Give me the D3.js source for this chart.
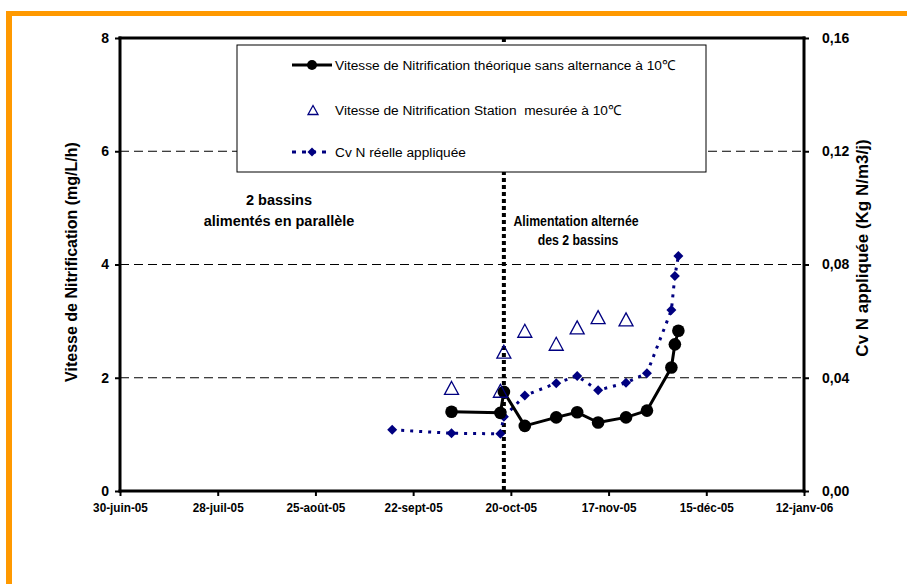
<!DOCTYPE html>
<html><head><meta charset="utf-8">
<script src="https://cdn.jsdelivr.net/npm/d3@7/dist/d3.min.js"></script>
<style>
body{margin:0;background:#fff;}
svg text{font-family:"Liberation Sans",Arial,sans-serif;}
</style></head><body>
<svg id="chart" width="907" height="584"></svg>
<script>
// ---- Data ----
const tickDates  = ["2005-06-30","2005-07-28","2005-08-25","2005-09-22","2005-10-20","2005-11-17","2005-12-15","2006-01-12"];
const tickLabels = ["30-juin-05","28-juil-05","25-août-05","22-sept-05","20-oct-05","17-nov-05","15-déc-05","12-janv-06"];
const leftTicks  = [0,2,4,6,8];
const rightTicks = [0,0.04,0.08,0.12,0.16];

const theoDates  = ["2005-10-03","2005-10-17","2005-10-18","2005-10-24","2005-11-02","2005-11-08","2005-11-14","2005-11-22","2005-11-28","2005-12-05","2005-12-06","2005-12-07"];
const theoValues = [1.40,1.38,1.75,1.15,1.30,1.39,1.21,1.30,1.42,2.18,2.59,2.83];

const measDates  = ["2005-10-03","2005-10-17","2005-10-18","2005-10-24","2005-11-02","2005-11-08","2005-11-14","2005-11-22"];
const measValues = [1.82,1.77,2.46,2.83,2.60,2.89,3.07,3.03];

const cvDates  = ["2005-09-16","2005-10-03","2005-10-17","2005-10-18","2005-10-24","2005-11-02","2005-11-08","2005-11-14","2005-11-22","2005-11-28","2005-12-05","2005-12-06","2005-12-07"];
const cvValues = [0.0216,0.0204,0.0202,0.0262,0.0337,0.0381,0.0406,0.0356,0.0382,0.0416,0.0639,0.0759,0.0830];

const switchDate = "2005-10-18";

const legendLabels = ["Vitesse de Nitrification théorique sans alternance à 10℃",
                      "Vitesse de Nitrification Station  mesurée à 10℃",
                      "Cv N réelle appliquée"];
const leftTitle  = "Vitesse de Nitrification (mg/L/h)";
const rightTitle = "Cv N appliquée (Kg N/m3/j)";
const noteLeft   = ["2 bassins","alimentés en parallèle"];
const noteRight  = ["Alimentation alternée","des 2 bassins"];

// ---- Setup ----
const parse = d3.utcParse("%Y-%m-%d");
const svg = d3.select("#chart");
const L = 120, R = 804, T = 38, B = 491;
const navy = "#000080";

const x = d3.scaleUtc().domain([parse(tickDates[0]), parse(tickDates[tickDates.length-1])]).range([L, R]);
const yL = d3.scaleLinear().domain([0, 8]).range([B, T]);
const yR = d3.scaleLinear().domain([0, 0.16]).range([B, T]);

// orange frame
svg.append("rect").attr("x", 6).attr("y", 11).attr("width", 901).attr("height", 5).attr("fill", "#FF9900");
svg.append("rect").attr("x", 6).attr("y", 11).attr("width", 6).attr("height", 573).attr("fill", "#FF9900");

// gridlines
svg.append("g").selectAll("line").data(leftTicks.filter(v => v > 0 && v < 8)).join("line")
  .attr("x1", L).attr("x2", R).attr("y1", d => yL(d)).attr("y2", d => yL(d))
  .attr("stroke", "#000").attr("stroke-width", 1).attr("stroke-dasharray", "9,5");

// vertical dotted line
svg.append("line").attr("x1", x(parse(switchDate))).attr("x2", x(parse(switchDate)))
  .attr("y1", T).attr("y2", B).attr("stroke", "#000").attr("stroke-width", 4).attr("stroke-dasharray", "4,3");

// axes
const fmtR = d => d3.format(".2f")(d).replace(".", ",");
const axB = svg.append("g").attr("transform", `translate(0,${B})`)
  .call(d3.axisBottom(x).tickValues(tickDates.map(parse)).tickFormat((d,i) => tickLabels[i]).tickSizeInner(5).tickSizeOuter(0).tickPadding(6));
const axL = svg.append("g").attr("transform", `translate(${L},0)`)
  .call(d3.axisLeft(yL).tickValues(leftTicks).tickFormat(d3.format("d")).tickSizeInner(5).tickSizeOuter(0).tickPadding(6));
const axR = svg.append("g").attr("transform", `translate(${R},0)`)
  .call(d3.axisRight(yR).tickValues(rightTicks).tickFormat(fmtR).tickSizeInner(5).tickSizeOuter(0).tickPadding(13));
[axB, axL, axR].forEach(g => {
  g.select(".domain").remove();
  g.selectAll(".tick line").attr("stroke", "#000").attr("stroke-width", 2);
  g.selectAll(".tick text").attr("font-weight", "bold").attr("fill", "#000")
    .style("font-family", '"Liberation Sans",Arial,sans-serif');
});
axB.selectAll(".tick text").attr("font-size", 13.5).attr("transform", "scale(0.87,1)");
axL.selectAll(".tick text").attr("font-size", 14);
axR.selectAll(".tick text").attr("font-size", 14);

// frame lines
const frame = svg.append("g").attr("stroke", "#000").attr("stroke-width", 3).attr("stroke-linecap", "square");
frame.append("line").attr("x1", L).attr("x2", R).attr("y1", T).attr("y2", T);
frame.append("line").attr("x1", L).attr("x2", R).attr("y1", B).attr("y2", B);
frame.append("line").attr("x1", L).attr("x2", L).attr("y1", T).attr("y2", B);
frame.append("line").attr("x1", R).attr("x2", R).attr("y1", T).attr("y2", B);

// Cv series (right axis)
const cvData = cvDates.map((d,i) => ({d: parse(d), v: cvValues[i]}));
svg.append("path").datum(cvData)
  .attr("d", d3.line().x(p => x(p.d)).y(p => yR(p.v)))
  .attr("fill", "none").attr("stroke", navy).attr("stroke-width", 3).attr("stroke-dasharray", "3,6");
const diamond = "M0,-5L5,0L0,5L-5,0Z";
svg.append("g").selectAll("path").data(cvData).join("path")
  .attr("transform", p => `translate(${x(p.d)},${yR(p.v)})`).attr("d", diamond).attr("fill", navy);

// theoretical series
const theoData = theoDates.map((d,i) => ({d: parse(d), v: theoValues[i]}));
svg.append("path").datum(theoData)
  .attr("d", d3.line().x(p => x(p.d)).y(p => yL(p.v)))
  .attr("fill", "none").attr("stroke", "#000").attr("stroke-width", 3).attr("stroke-linejoin", "round");
svg.append("g").selectAll("circle").data(theoData).join("circle")
  .attr("cx", p => x(p.d)).attr("cy", p => yL(p.v)).attr("r", 6.3).attr("fill", "#000");

// measured series
const tri = "M0,-6.5L7,6.5L-7,6.5Z";
const measData = measDates.map((d,i) => ({d: parse(d), v: measValues[i]}));
svg.append("g").selectAll("path").data(measData).join("path")
  .attr("transform", p => `translate(${x(p.d)},${yL(p.v)})`).attr("d", tri)
  .attr("fill", "none").attr("stroke", navy).attr("stroke-width", 1.3);

// legend
const lg = svg.append("g");
lg.append("rect").attr("x", 237).attr("y", 45).attr("width", 469).attr("height", 127)
  .attr("fill", "#fff").attr("stroke", "#000").attr("stroke-width", 1);
const rows = [65, 110, 152];
lg.append("line").attr("x1", 292).attr("x2", 332).attr("y1", rows[0]).attr("y2", rows[0]).attr("stroke", "#000").attr("stroke-width", 3);
lg.append("circle").attr("cx", 312).attr("cy", rows[0]).attr("r", 5).attr("fill", "#000");
lg.append("path").attr("transform", `translate(313,${rows[1]})`).attr("d", "M0,-4.5L5,4.5L-5,4.5Z")
  .attr("fill", "none").attr("stroke", navy).attr("stroke-width", 1.3);
lg.append("line").attr("x1", 292).attr("x2", 332).attr("y1", rows[2]).attr("y2", rows[2]).attr("stroke", navy).attr("stroke-width", 3).attr("stroke-dasharray", "4,6");
lg.append("path").attr("transform", `translate(312,${rows[2]})`).attr("d", "M0,-4.5L4.5,0L0,4.5L-4.5,0Z").attr("fill", navy);
lg.selectAll("text.lt").data(legendLabels).join("text").attr("class", "lt")
  .attr("x", 335).attr("y", (d,i) => rows[i] + 5).attr("font-size", 13.7).attr("fill", "#000")
  .style("white-space", "pre").text(d => d);

// annotations
const ann = svg.append("g").attr("font-weight", "bold").attr("text-anchor", "middle").attr("fill", "#000");
ann.append("text").attr("x", 279).attr("y", 205).attr("font-size", 14.5).text(noteLeft[0]);
ann.append("text").attr("x", 279).attr("y", 226).attr("font-size", 14.5).text(noteLeft[1]);
ann.append("text").attr("transform", "translate(576,226) scale(0.88,1)").attr("font-size", 14).text(noteRight[0]);
ann.append("text").attr("transform", "translate(578,245) scale(0.88,1)").attr("font-size", 14).text(noteRight[1]);

// axis titles
svg.append("text").attr("transform", `translate(77,262) rotate(-90)`).attr("text-anchor", "middle")
  .attr("font-weight", "bold").attr("font-size", 16).text(leftTitle);
svg.append("text").attr("transform", `translate(868,248) rotate(-90)`).attr("text-anchor", "middle")
  .attr("font-weight", "bold").attr("font-size", 17).text(rightTitle);
</script>
</body></html>
